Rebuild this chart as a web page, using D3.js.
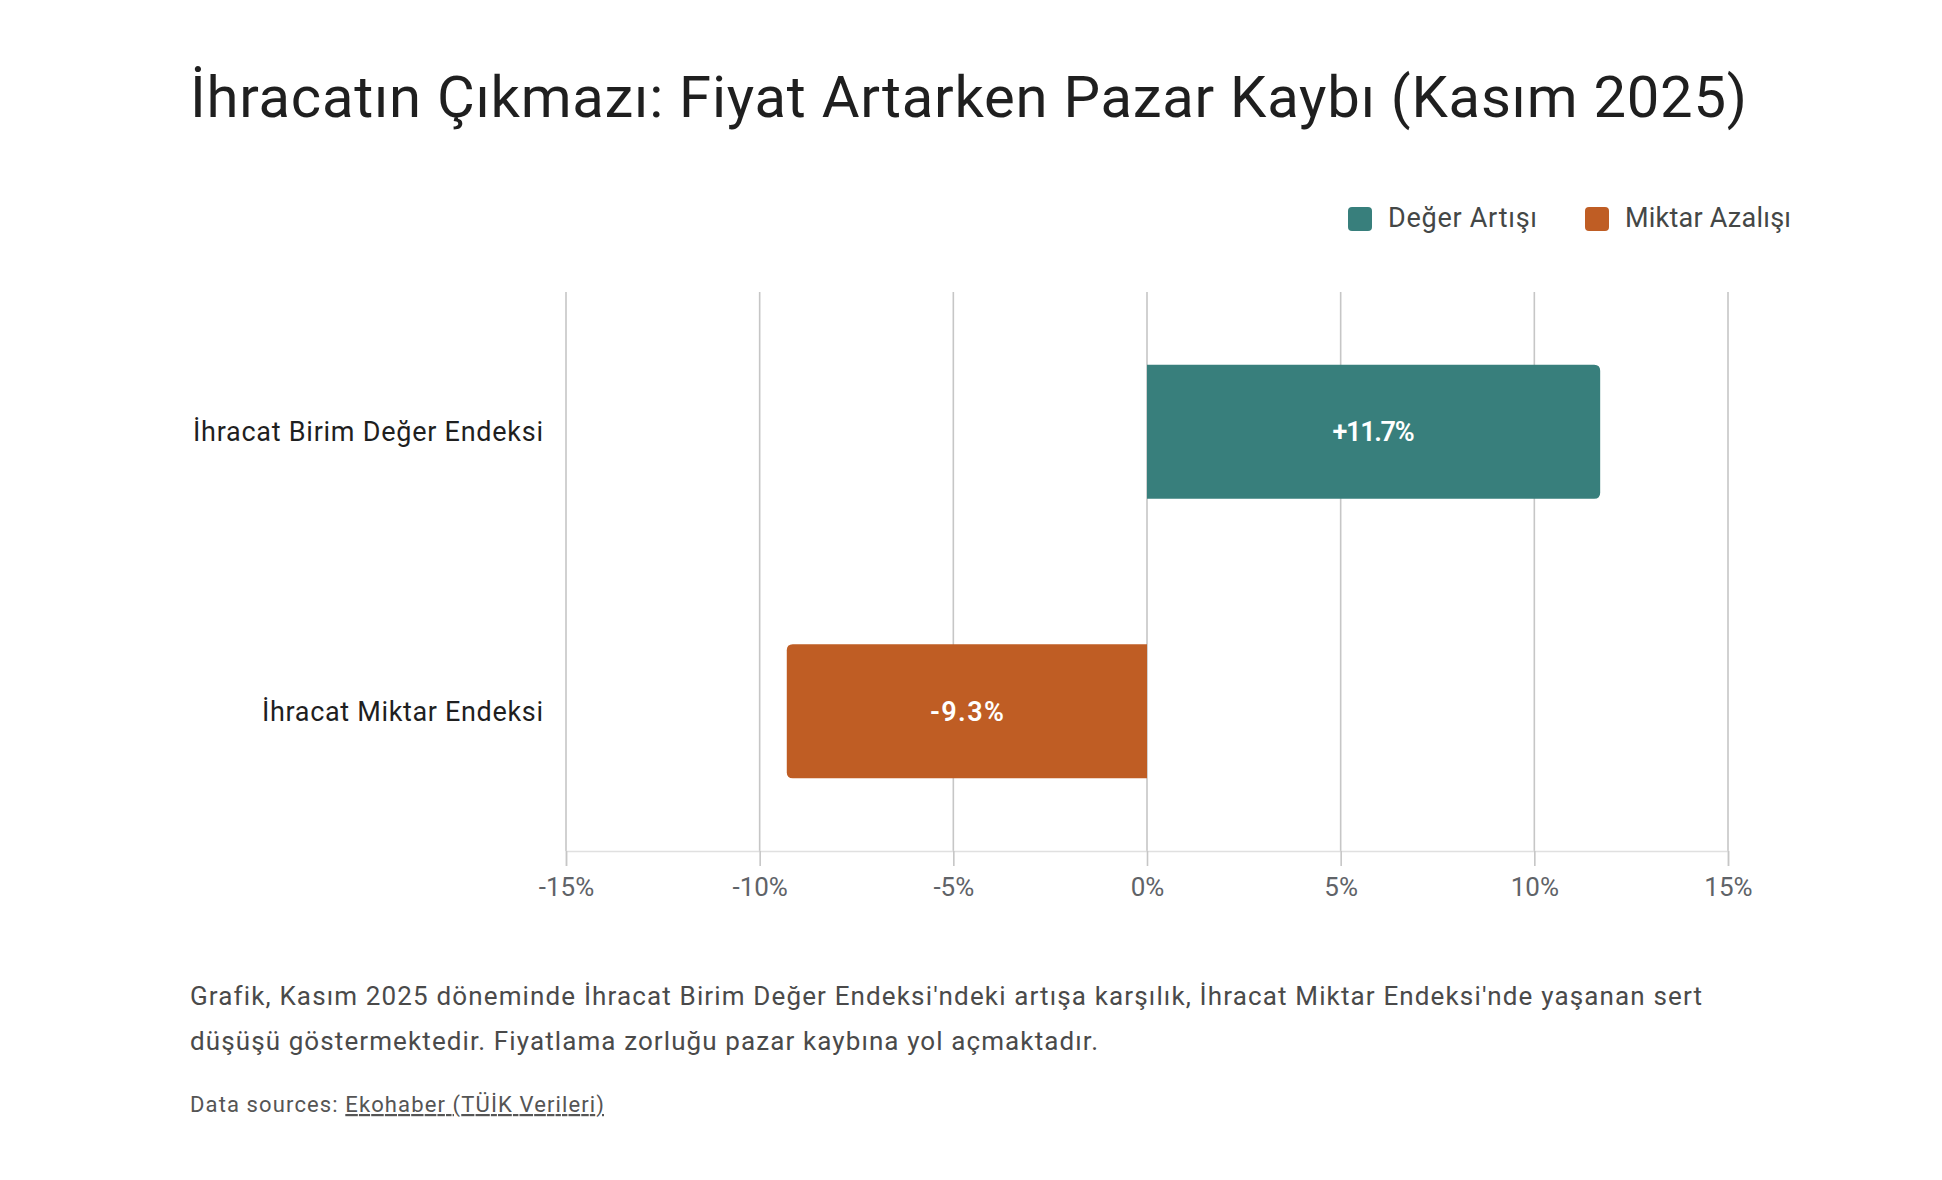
<!DOCTYPE html>
<html lang="tr">
<head>
<meta charset="utf-8">
<script src="https://cdn.jsdelivr.net/npm/d3@7"></script>
<style>
    body { margin: 0; background: #fff; }
    svg text { font-family: Roboto, "Noto Sans", sans-serif; }
</style>
</head>
<body>
<svg id="chart"></svg>
<script>
// chart data
const categories = ["İhracat Birim Değer Endeksi", "İhracat Miktar Endeksi"];
const values = [11.7, -9.3];
const valueLabels = ["+11.7%", "-9.3%"];
const seriesNames = ["Değer Artışı", "Miktar Azalışı"];
const seriesColors = ["#387f7c", "#bf5d24"];
const tickValues = [-15, -10, -5, 0, 5, 10, 15];

const titleText = "İhracatın Çıkmazı: Fiyat Artarken Pazar Kaybı (Kasım 2025)";
const captionLines = [
    "Grafik, Kasım 2025 döneminde İhracat Birim Değer Endeksi'ndeki artışa karşılık, İhracat Miktar Endeksi'nde yaşanan sert",
    "düşüşü göstermektedir. Fiyatlama zorluğu pazar kaybına yol açmaktadır."
];
const sourcePrefix = "Data sources: ";
const sourceLink = "Ekohaber (TÜİK Verileri)";

const W = 1942, H = 1180;
const plot = { left: 566, right: 1728, top: 292, bottom: 851 };

const svg = d3.select("#chart").attr("width", W).attr("height", H);

// stretch the letter spacing a little so the text fills the same width as the original
function fitWidth(sel, width) {
    sel.attr("textLength", width).attr("lengthAdjust", "spacing");
}

// title
svg.append("text")
    .attr("x", 190).attr("y", 117)
    .attr("font-size", 58)
    .attr("fill", "#1f1f1f")
    .text(titleText)
    .call(fitWidth, 1557);

// legend
const legend = svg.append("g");
const legendX = [1348, 1585];
const legendTextW = [149, 166];
seriesNames.forEach((name, i) => {
    const g = legend.append("g").attr("transform", `translate(${legendX[i]},207)`);
    g.append("rect").attr("width", 24).attr("height", 24).attr("rx", 4)
        .attr("fill", seriesColors[i]);
    g.append("text").attr("x", 40).attr("y", 20)
        .attr("font-size", 27).attr("fill", "#444746")
        .text(name)
        .call(fitWidth, legendTextW[i]);
});

// scales
const x = d3.scaleLinear().domain([-15, 15]).range([plot.left, plot.right]);
const y = d3.scaleBand().domain(categories)
    .range([plot.top, plot.bottom])
    .paddingInner(0.52).paddingOuter(0.26);

// gridlines
svg.append("g")
    .selectAll("line")
    .data(tickValues)
    .join("line")
    .attr("x1", d => x(d)).attr("x2", d => x(d))
    .attr("y1", plot.top).attr("y2", plot.bottom)
    .attr("stroke", "#c6c6c6").attr("stroke-width", 1.6);

// x axis
const xAxis = svg.append("g")
    .attr("transform", `translate(0,${plot.bottom})`)
    .call(d3.axisBottom(x).tickValues(tickValues).tickSize(15).tickPadding(12)
        .tickFormat(d => d + "%"));
xAxis.select(".domain").attr("stroke", "#e0e0e0").attr("stroke-width", 1.6);
xAxis.selectAll(".tick line").attr("stroke", "#c6c6c6").attr("stroke-width", 1.6);
xAxis.selectAll(".tick text")
    .attr("font-size", 26).attr("fill", "#5f6368")
    .style("font-family", "Roboto, 'Noto Sans', sans-serif");

// bar with rounded outer end only
function barPath(v, cat) {
    const x0 = x(0), x1 = x(v);
    const top = y(cat), h = y.bandwidth();
    const r = 6;
    const s = v >= 0 ? 1 : -1;
    return `M${x0},${top}` +
        `H${x1 - s * r}` +
        `Q${x1},${top} ${x1},${top + r}` +
        `V${top + h - r}` +
        `Q${x1},${top + h} ${x1 - s * r},${top + h}` +
        `H${x0}Z`;
}

const valueLabelW = [82, 74];
const bars = svg.append("g");
categories.forEach((cat, i) => {
    bars.append("path")
        .attr("d", barPath(values[i], cat))
        .attr("fill", seriesColors[i]);
    bars.append("text")
        .attr("x", (x(0) + x(values[i])) / 2)
        .attr("y", y(cat) + y.bandwidth() / 2)
        .attr("dy", "0.36em")
        .attr("text-anchor", "middle")
        .attr("font-size", 27).attr("font-weight", 600)
        .attr("fill", "#fff")
        .text(valueLabels[i])
        .call(fitWidth, valueLabelW[i]);
});

// category labels
const labelW = [350, 281];
svg.append("g")
    .selectAll("text")
    .data(categories)
    .join("text")
    .attr("x", 543)
    .attr("y", d => y(d) + y.bandwidth() / 2)
    .attr("dy", "0.35em")
    .attr("text-anchor", "end")
    .attr("font-size", 27).attr("fill", "#1f1f1f")
    .text(d => d)
    .each(function (d, i) { d3.select(this).call(fitWidth, labelW[i]); });

// caption
const captionW = [1512, 908];
svg.append("g")
    .selectAll("text")
    .data(captionLines)
    .join("text")
    .attr("x", 190)
    .attr("y", (d, i) => 1005 + i * 45)
    .attr("font-size", 26).attr("fill", "#4a4a4a")
    .text(d => d)
    .each(function (d, i) { d3.select(this).call(fitWidth, captionW[i]); });

const src = svg.append("text")
    .attr("x", 190).attr("y", 1112)
    .attr("font-size", 22).attr("fill", "#555");
src.append("tspan").text(sourcePrefix);
src.append("tspan").attr("text-decoration", "underline").text(sourceLink);
src.call(fitWidth, 414);
</script>
</body>
</html>
